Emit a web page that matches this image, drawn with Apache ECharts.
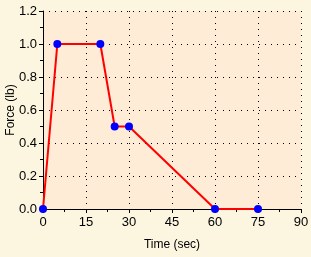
<!DOCTYPE html>
<html>
<head>
<meta charset="utf-8">
<script src="https://cdn.jsdelivr.net/npm/echarts@6/dist/echarts.min.js"></script>
<style>
  html, body { margin: 0; padding: 0; background: #fcf6e0; }
  #chart { width: 311px; height: 257px; }
</style>
</head>
<body>
<div id="chart"></div>
<script>
  // time (sec) vs force (lb)
  var timeSec = [0, 5, 20, 25, 30, 60, 75];
  var forceLb = [0, 1.0, 1.0, 0.5, 0.5, 0, 0];
  var xTicks = [0, 15, 30, 45, 60, 75, 90];
  var yTicks = [0.0, 0.2, 0.4, 0.6, 0.8, 1.0, 1.2];

  var points = timeSec.map(function (t, i) { return [t, forceLb[i]]; });

  var chart = echarts.init(document.getElementById('chart'));
  var font = 'Liberation Sans, Arial, sans-serif';
  chart.setOption({
    backgroundColor: '#fcf6e0',
    animation: false,
    grid: {
      left: 43, right: 10, top: 11, bottom: 48,
      containLabel: false,
      outerBoundsMode: 'none',
      show: true,
      backgroundColor: '#feecd6',
      borderWidth: 0
    },
    xAxis: {
      type: 'value',
      min: xTicks[0],
      max: xTicks[xTicks.length - 1],
      interval: 15,
      name: 'Time (sec)',
      nameLocation: 'middle',
      nameGap: 30,
      nameMoveOverlap: false,
      nameTextStyle: { color: '#000', fontSize: 12, fontFamily: font },
      axisLine: { lineStyle: { color: '#000', width: 1 } },
      axisTick: { show: true, length: 4, lineStyle: { color: '#000' } },
      minorTick: { show: true, splitNumber: 2, length: 3, lineStyle: { color: '#000' } },
      axisLabel: { color: '#000', fontSize: 13, fontFamily: font, margin: 7 },
      splitLine: { show: true, lineStyle: { color: '#000', type: [1, 5], width: 1 } }
    },
    yAxis: {
      type: 'value',
      min: yTicks[0],
      max: yTicks[yTicks.length - 1],
      interval: 0.2,
      name: 'Force (lb)',
      nameLocation: 'middle',
      nameGap: 26,
      nameRotate: 90,
      nameMoveOverlap: false,
      nameTextStyle: { color: '#000', fontSize: 12, fontFamily: font },
      axisLine: { show: true, lineStyle: { color: '#000', width: 1 } },
      axisTick: { show: true, length: 4, lineStyle: { color: '#000' } },
      minorTick: { show: true, splitNumber: 2, length: 3, lineStyle: { color: '#000' } },
      axisLabel: {
        color: '#000', fontSize: 13, fontFamily: font, margin: 6,
        formatter: function (v) { return v.toFixed(1); }
      },
      splitLine: { show: true, lineStyle: { color: '#000', type: [1, 5], width: 1 } }
    },
    series: [{
      type: 'line',
      data: points,
      symbol: 'circle',
      symbolSize: 8,
      itemStyle: { color: '#0000ff' },
      lineStyle: { color: '#ff0000', width: 2 },
      z: 3
    }]
  });
</script>
</body>
</html>
